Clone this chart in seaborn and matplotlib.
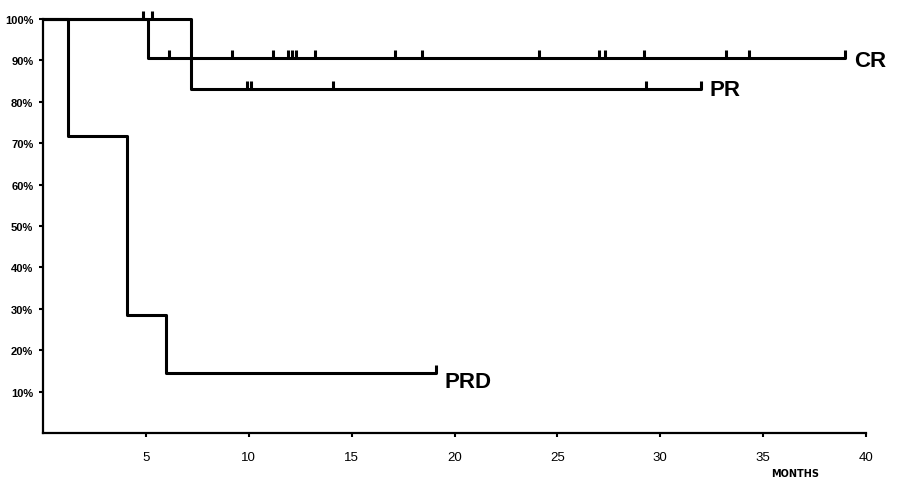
import numpy as np
import pandas as pd
import matplotlib
matplotlib.use("Agg")
import matplotlib.pyplot as plt
import seaborn as sns
from matplotlib.path import Path

sns.set_style("ticks")
plt.rcParams['font.family'] = ['Liberation Sans', 'DejaVu Sans']
plt.rcParams['text.color'] = 'black'
plt.rcParams['xtick.color'] = 'black'
plt.rcParams['ytick.color'] = 'black'
plt.rcParams['axes.labelcolor'] = 'black'

# Step curves (time in months, survival %)
cr_t = [0, 5.1, 39.0]
cr_s = [100, 90.5, 90.5]
pr_t = [0, 7.2, 32.0]
pr_s = [100, 83, 83]
prd_t = [0, 1.2, 4.1, 6.0, 19.1]
prd_s = [100, 71.7, 28.5, 14.5, 14.5]

# Censoring marks
cr_cens = [4.85, 6.1, 9.2, 11.2, 11.9, 12.1, 12.3, 13.2, 17.1, 18.4, 24.1, 27.0, 27.3, 29.2, 33.2, 34.3, 39.0]
cr_cens_s = [100] + [90.5] * 16
pr_cens = [5.3, 9.9, 10.1, 14.1, 29.3, 32.0]
pr_cens_s = [100, 83, 83, 83, 83, 83]
prd_cens = [19.1]
prd_cens_s = [14.5]

yticks = [10, 20, 30, 40, 50, 60, 70, 80, 90, 100]
ytick_labels = ["10%", "20%", "30%", "40%", "50%", "60%", "70%", "80%", "90%", "100%"]
xticks = [5, 10, 15, 20, 25, 30, 35, 40]
xtick_labels = ["5", "10", "15", "20", "25", "30", "35", "40"]

fig = plt.figure(figsize=(9.07, 4.81), dpi=100)
ax = fig.add_axes([43 / 907, (481 - 434) / 481, (866 - 43) / 907, (434 - 20) / 481])

curves = pd.concat([
    pd.DataFrame({"t": cr_t, "s": cr_s, "g": "CR"}),
    pd.DataFrame({"t": pr_t, "s": pr_s, "g": "PR"}),
    pd.DataFrame({"t": prd_t, "s": prd_s, "g": "PRD"}),
])
for g, d in curves.groupby("g"):
    sns.lineplot(data=d, x="t", y="s", ax=ax, color="black", linewidth=2.2,
                 drawstyle="steps-post", sort=False, estimator=None, clip_on=False)

tick_marker = Path([(0, 0), (0, 1)], [Path.MOVETO, Path.LINETO])
cens = pd.DataFrame({"t": cr_cens + pr_cens + prd_cens,
                     "s": cr_cens_s + pr_cens_s + prd_cens_s})
sns.scatterplot(data=cens, x="t", y="s", ax=ax, marker=tick_marker, s=120,
                color="black", linewidth=2.2, edgecolor="black", clip_on=False, legend=False)

ax.set_xlim(0, 40)
ax.set_ylim(0, 100)
ax.set_xticks(xticks)
ax.set_xticklabels(xtick_labels, fontsize=9.5)
ax.set_yticks(yticks)
ax.set_yticklabels(ytick_labels, fontsize=8, fontweight="bold")
ax.tick_params(axis="both", direction="out", length=3, width=1.5, color="black",
               labelcolor="black", left=True, bottom=True)
ax.tick_params(axis="x", pad=10)
ax.tick_params(axis="y", pad=4)
ax.set_xlabel("")
ax.set_ylabel("")
for side in ["top", "right"]:
    ax.spines[side].set_visible(False)
for side in ["left", "bottom"]:
    ax.spines[side].set_color("black")
    ax.spines[side].set_linewidth(1.6)

ax.text(39.4, 90, "CR", fontsize=16, fontweight="bold", va="center", ha="left", color="black")
ax.text(32.4, 83, "PR", fontsize=16, fontweight="bold", va="center", ha="left", color="black")
ax.text(19.5, 12.5, "PRD", fontsize=16, fontweight="bold", va="center", ha="left", color="black")
fig.text(795 / 907, 1 - 474 / 481, "MONTHS", fontsize=7, fontweight="heavy",
         ha="center", va="center", family="DejaVu Sans", color="black")

fig.savefig("out.png", dpi=100)
